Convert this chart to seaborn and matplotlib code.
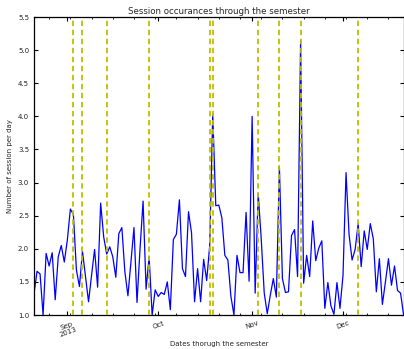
import matplotlib
matplotlib.use("Agg")
import matplotlib.pyplot as plt
import matplotlib.dates as mdates
import pandas as pd
import seaborn as sns

# Daily session counts over the semester (Aug 21 - Dec 21, 2013)
start_date = "2013-08-21"
end_date = "2013-12-21"
sessions_per_day = [
    1.32, 1.66, 1.62, 1.00, 1.93, 1.74, 1.94, 1.23, 1.88, 2.05, 1.80,
    2.13, 2.60, 2.52, 1.68, 1.43, 1.96, 1.58, 1.20, 1.60, 1.99,
    1.42, 2.69, 2.18, 1.92, 2.03, 1.88, 1.57, 2.23, 2.32, 1.65,
    1.29, 1.80, 2.32, 1.19, 2.00, 2.72, 1.39, 1.88, 1.00, 1.38,
    1.28, 1.34, 1.31, 1.50, 1.08, 2.14, 2.22, 2.74, 1.70, 1.58,
    2.56, 2.24, 1.20, 1.70, 1.20, 1.84, 1.52, 2.05, 4.03, 2.65,
    2.66, 2.47, 1.90, 1.83, 1.28, 1.00, 1.90, 1.64, 1.64, 2.55,
    1.51, 4.00, 1.33, 2.84, 2.15, 1.33, 1.02, 1.30, 1.55, 1.27,
    3.24, 1.55, 1.34, 1.35, 2.20, 2.29, 1.58, 5.13, 1.48, 1.90,
    1.58, 2.42, 1.82, 2.01, 2.12, 1.10, 1.49, 1.14, 1.01, 1.49,
    1.10, 1.60, 3.15, 2.21, 1.83, 1.99, 2.38, 1.73, 2.27, 1.99,
    2.38, 2.15, 1.35, 1.85, 1.16, 1.50, 1.85, 1.45, 1.74, 1.37,
    1.33, 1.00,
]

# Key dates in the semester, marked with dashed lines
event_dates = [
    "2013-09-03", "2013-09-06", "2013-09-14", "2013-09-28", "2013-10-18",
    "2013-10-19", "2013-11-03", "2013-11-10", "2013-11-17", "2013-12-06",
]

month_ticks = ["2013-09-01", "2013-10-01", "2013-11-01", "2013-12-01"]
month_labels = ["Sep\n2013", "Oct", "Nov", "Dec"]
y_ticks = [1.0, 1.5, 2.0, 2.5, 3.0, 3.5, 4.0, 4.5, 5.0, 5.5]

sns.set_style("ticks")
plt.rcParams["font.family"] = ["DejaVu Sans"]

W, H = 404, 349
fig = plt.figure(figsize=(W / 100, H / 100), dpi=100)
ax = fig.add_axes([34 / W, 1 - 315 / H, (403.6 - 34) / W, (315 - 17) / H])

df = pd.DataFrame({
    "date": pd.date_range(start_date, end_date, freq="D"),
    "sessions": sessions_per_day,
})
sns.lineplot(data=df, x="date", y="sessions", color="#0000ff", lw=0.9, ax=ax)

for d in event_dates:
    ax.axvline(mdates.date2num(pd.Timestamp(d)), color="#bfbf00", lw=1.3,
               ls=(0, (3, 2)), zorder=3)

ax.set_xlim(mdates.date2num(df["date"].iloc[0]), mdates.date2num(df["date"].iloc[-1]))
ax.set_ylim(1.0, 5.5)
ax.set_xticks(mdates.date2num(pd.to_datetime(month_ticks)))
ax.set_xticklabels(month_labels, rotation=20, ha="center")
ax.xaxis.set_minor_locator(mdates.WeekdayLocator(byweekday=mdates.MO))
ax.set_yticks(y_ticks)
ax.set_yticklabels([f"{v:.1f}" for v in y_ticks])

ax.tick_params(which="both", direction="in", top=True, right=True,
               labelsize=5, color="black", labelcolor="#222222")
ax.tick_params(which="major", length=3, width=0.8)
ax.tick_params(which="minor", length=1.6, width=0.6)
for s in ax.spines.values():
    s.set_linewidth(0.9)
    s.set_color("black")

ax.set_title("Session occurances through the semester", fontsize=6.2, pad=2.5)
ax.set_xlabel("Dates thorugh the semester", fontsize=5, labelpad=2)
ax.set_ylabel("Number of session per day", fontsize=5, labelpad=3.5)

fig.savefig("out.png", dpi=100)
